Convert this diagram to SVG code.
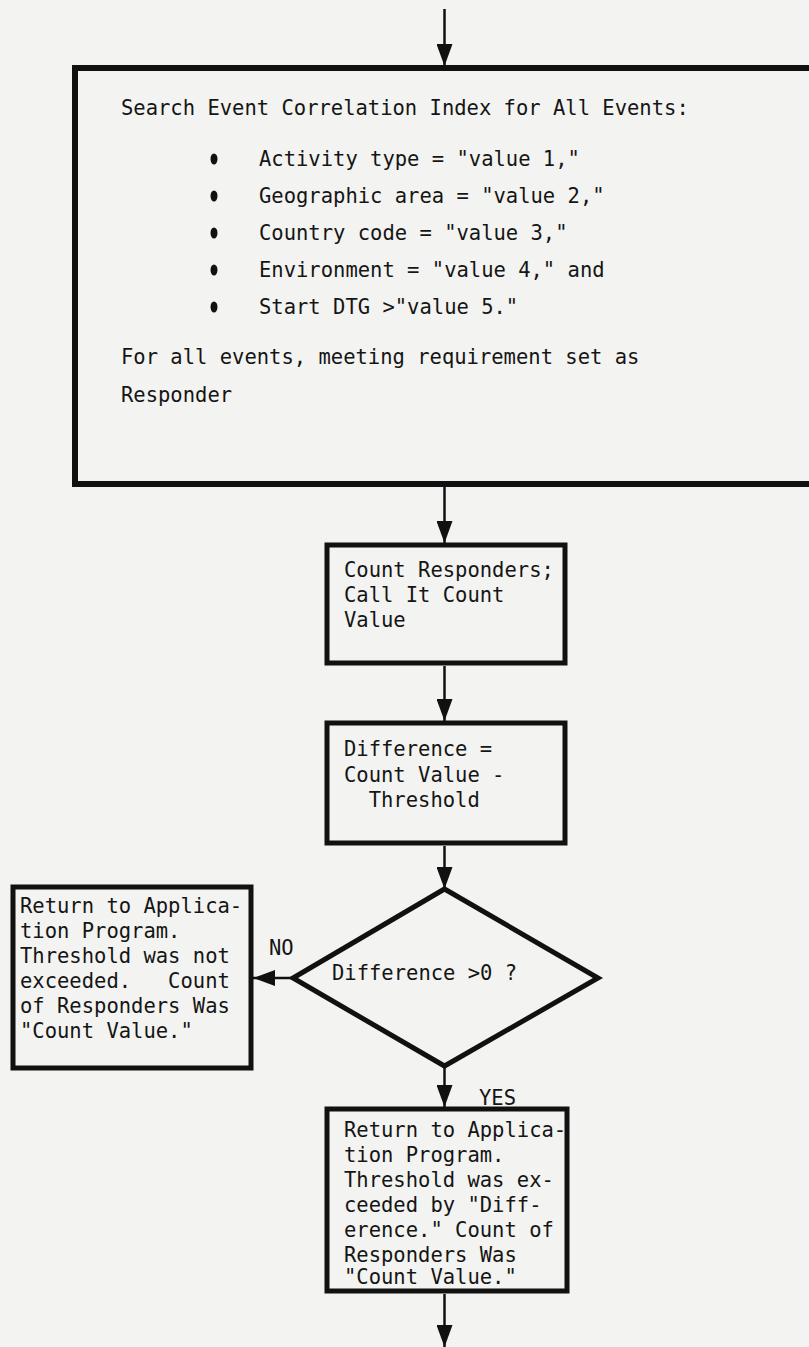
<svg xmlns="http://www.w3.org/2000/svg" width="809" height="1347" viewBox="0 0 809 1347">
<style>
.bg{fill:#f3f3f1}
.box{fill:none;stroke:#111;stroke-width:5}
.big{fill:none;stroke:#111;stroke-width:6}
.t{font-family:"DejaVu Sans Mono","Liberation Mono",monospace;font-size:20.5px;fill:#151515}
.c{stroke:#111;stroke-width:2.5;fill:none}
</style>
<defs>
<marker id="ah" markerUnits="userSpaceOnUse" markerWidth="22" markerHeight="16" refX="22" refY="8" orient="auto">
<path d="M0,0 L22,8 L0,16 Z" fill="#111"/>
</marker>
</defs>
<rect class="bg" x="0" y="0" width="809" height="1347"/>

<g id="connectors">
<line class="c" x1="444.5" y1="9" x2="444.5" y2="66" marker-end="url(#ah)"/>
<line class="c" x1="444.5" y1="487" x2="444.5" y2="543" marker-end="url(#ah)"/>
<line class="c" x1="444.5" y1="666" x2="444.5" y2="721" marker-end="url(#ah)"/>
<line class="c" x1="444.5" y1="846" x2="444.5" y2="889" marker-end="url(#ah)"/>
<line class="c" x1="293" y1="978" x2="253" y2="978" marker-end="url(#ah)"/>
<line class="c" x1="444.5" y1="1066" x2="444.5" y2="1107" marker-end="url(#ah)"/>
<line class="c" x1="444.5" y1="1294" x2="444.5" y2="1347" marker-end="url(#ah)"/>
<text class="t" x="269" y="955">NO</text>
<text class="t" x="479" y="1105">YES</text>
</g>

<g id="search">
<rect class="big" x="75" y="68" width="760" height="416"/>
<text class="t" x="121" y="115">Search Event Correlation Index for All Events:</text>
<ellipse cx="214" cy="159" rx="3.5" ry="5.5" fill="#111"/>
<ellipse cx="214" cy="196" rx="3.5" ry="5.5" fill="#111"/>
<ellipse cx="214" cy="233" rx="3.5" ry="5.5" fill="#111"/>
<ellipse cx="214" cy="270" rx="3.5" ry="5.5" fill="#111"/>
<ellipse cx="214" cy="307" rx="3.5" ry="5.5" fill="#111"/>
<text class="t" x="259" y="166">Activity type = "value 1,"</text>
<text class="t" x="259" y="203">Geographic area = "value 2,"</text>
<text class="t" x="259" y="240">Country code = "value 3,"</text>
<text class="t" x="259" y="277">Environment = "value 4," and</text>
<text class="t" x="259" y="314">Start DTG &gt;"value 5."</text>
<text class="t" x="121" y="364">For all events, meeting requirement set as</text>
<text class="t" x="121" y="402">Responder</text>
</g>

<g id="count">
<rect class="box" x="327" y="545" width="238" height="118"/>
<text class="t" x="344" y="577">Count Responders;</text>
<text class="t" x="344" y="602">Call It Count</text>
<text class="t" x="344" y="627">Value</text>
</g>

<g id="difference">
<rect class="box" x="327" y="723" width="238" height="120"/>
<text class="t" x="344" y="756">Difference =</text>
<text class="t" x="344" y="782">Count Value -</text>
<text class="t" x="344" y="807" xml:space="preserve">  Threshold</text>
</g>

<g id="decision">
<polygon class="box" points="444.5,889 598,978 444.5,1066 293,978"/>
<text class="t" x="332" y="980">Difference &gt;0 ?</text>
</g>

<g id="no-exit">
<rect class="box" x="13" y="887" width="238" height="181"/>
<text class="t" x="20" y="913">Return to Applica-</text>
<text class="t" x="20" y="938">tion Program.</text>
<text class="t" x="20" y="963">Threshold was not</text>
<text class="t" x="20" y="988" xml:space="preserve">exceeded.   Count</text>
<text class="t" x="20" y="1013">of Responders Was</text>
<text class="t" x="20" y="1038">"Count Value."</text>
</g>

<g id="yes-exit">
<rect class="box" x="327" y="1109" width="240" height="182"/>
<text class="t" x="344" y="1137">Return to Applica-</text>
<text class="t" x="344" y="1162">tion Program.</text>
<text class="t" x="344" y="1187">Threshold was ex-</text>
<text class="t" x="344" y="1212">ceeded by "Diff-</text>
<text class="t" x="344" y="1237">erence." Count of</text>
<text class="t" x="344" y="1262">Responders Was</text>
<text class="t" x="344" y="1284">"Count Value."</text>
</g>
</svg>
